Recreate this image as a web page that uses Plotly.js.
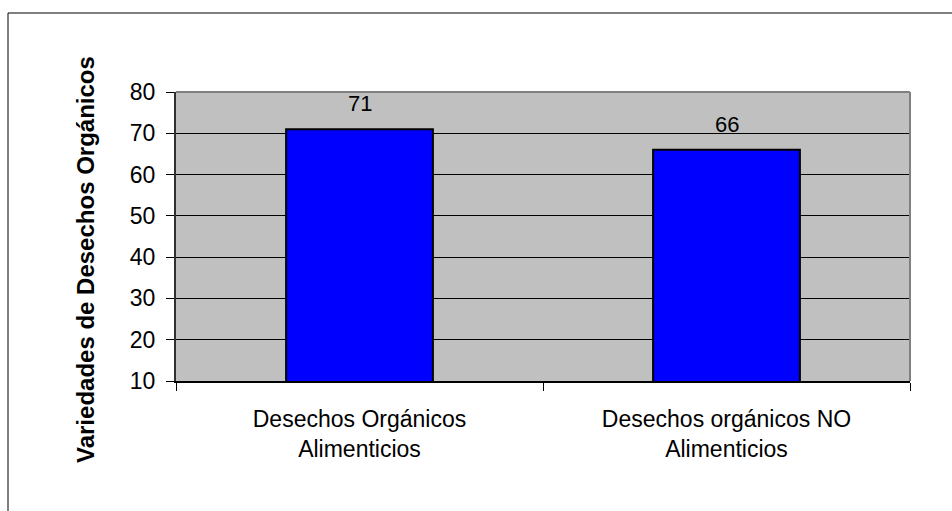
<!DOCTYPE html>
<html>
<head>
<meta charset="utf-8">
<script src="https://cdn.plot.ly/plotly-3.0.1.min.js"></script>
<style>
  html, body { margin: 0; padding: 0; background: #ffffff; }
  #chart { width: 952px; height: 511px; }
</style>
</head>
<body>
<div id="chart"></div>
<script>
// Categories and counts of organic waste varieties
const categories = ["Desechos Orgánicos<br>Alimenticios", "Desechos orgánicos NO<br>Alimenticios"];
const values = [71, 66];
const yTicks = [10, 20, 30, 40, 50, 60, 70, 80];
const yTitle = "Variedades de Desechos Orgánicos";

const W = 952, H = 511;
const L = 176, R = 910, T = 92, B = 381;
const pw = R - L, ph = B - T;
// pixel -> paper helpers for the frame and the value-axis caption
const px = x => (x - L) / pw;
const py = y => (B - y) / ph;

const fontFam = '"Liberation Sans", Arial, sans-serif';

const trace = {
  type: 'bar',
  x: categories,
  y: values,
  marker: { color: '#0000FF', line: { color: '#000000', width: 2 } },
  hoverinfo: 'none'
};

// value labels above each bar
const annotations = categories.map((c, i) => ({
  x: c, y: values[i], xref: 'x', yref: 'y',
  text: String(values[i]),
  showarrow: false,
  yanchor: 'bottom',
  yshift: 11,
  font: { family: fontFam, size: 22, color: '#000000' }
}));

// rotated caption of the value axis
annotations.push({
  xref: 'paper', yref: 'paper',
  x: px(85), y: py(260),
  xanchor: 'center', yanchor: 'middle',
  textangle: -90,
  text: '<b>' + yTitle + '</b>',
  showarrow: false,
  font: { family: fontFam, size: 24, color: '#000000' }
});

const layout = {
  width: W, height: H,
  margin: { l: L, r: W - R, t: T, b: H - B },
  paper_bgcolor: '#ffffff',
  plot_bgcolor: '#C0C0C0',
  bargap: 0.6,
  showlegend: false,
  font: { family: fontFam, size: 22, color: '#000000' },
  xaxis: {
    type: 'category',
    tickson: 'boundaries',
    ticks: 'outside',
    ticklen: 8,
    tickcolor: '#000000',
    ticklabelstandoff: 16,
    showgrid: false,
    showline: true,
    linecolor: '#000000',
    linewidth: 2,
    tickfont: { family: fontFam, size: 23, color: '#000000' },
    automargin: false,
    fixedrange: true
  },
  yaxis: {
    range: [10, 80],
    tickvals: yTicks,
    ticks: 'outside',
    ticklen: 8,
    tickcolor: '#000000',
    ticklabelstandoff: 6,
    showgrid: true,
    gridcolor: '#000000',
    gridwidth: 1,
    zeroline: false,
    showline: true,
    linecolor: '#303030',
    linewidth: 2,
    tickfont: { family: fontFam, size: 23, color: '#000000' },
    automargin: false,
    fixedrange: true
  },
  shapes: [
    // gray border of the plot area (top and right)
    { type: 'line', xref: 'paper', yref: 'paper', x0: 0, x1: 1, y0: 1, y1: 1,
      line: { color: '#808080', width: 2 }, layer: 'above' },
    { type: 'line', xref: 'paper', yref: 'paper', x0: 1, x1: 1, y0: 0, y1: 1,
      line: { color: '#808080', width: 2 }, layer: 'above' },
    // outer chart frame
    { type: 'line', xref: 'paper', yref: 'paper', x0: px(8), x1: px(960), y0: py(13), y1: py(13),
      line: { color: '#000000', width: 1 } },
    { type: 'line', xref: 'paper', yref: 'paper', x0: px(8), x1: px(8), y0: py(13), y1: py(520),
      line: { color: '#000000', width: 1 } }
  ],
  annotations: annotations
};

Plotly.newPlot('chart', [trace], layout, { displayModeBar: false, staticPlot: true });
</script>
</body>
</html>
